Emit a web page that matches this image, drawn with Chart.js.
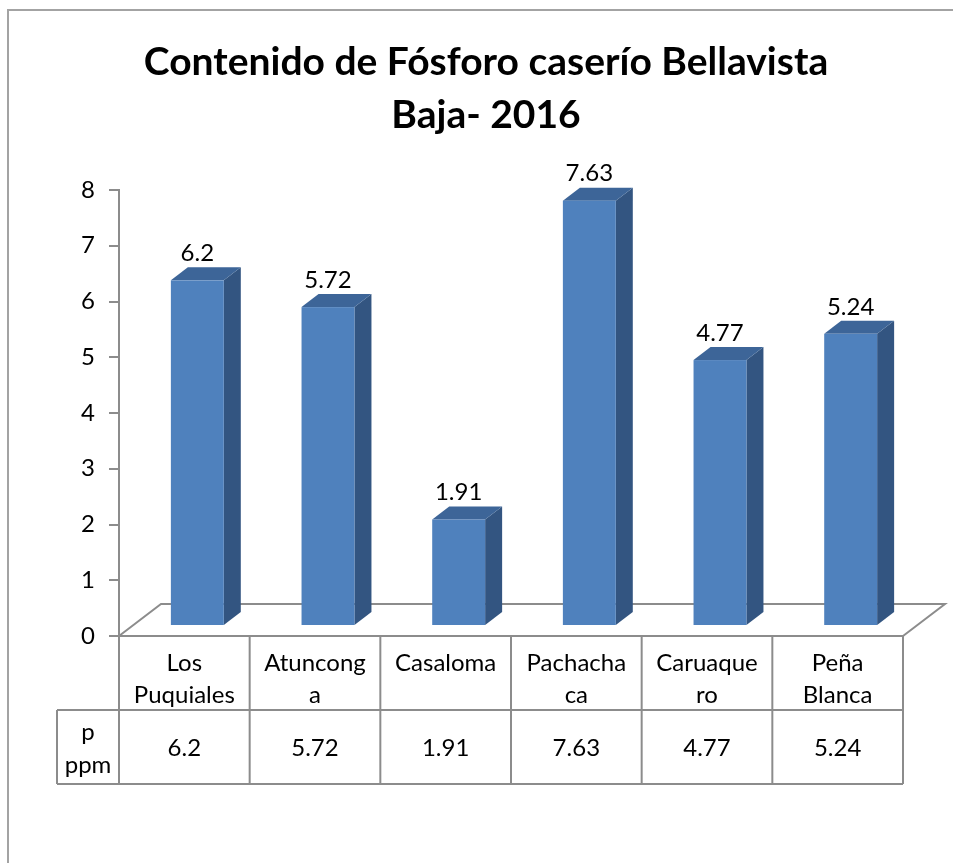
<!DOCTYPE html>
<html>
<head>
<meta charset="utf-8">
<script src="https://cdn.jsdelivr.net/npm/chart.js@4"></script>
<style>
    html, body { margin: 0; padding: 0; background: #fff; }
    #wrap { width: 953px; height: 863px; }
</style>
</head>
<body>
<div id="wrap"><canvas id="grafico" width="953" height="863"></canvas></div>
<script>
// Datos
const categorias = [['Los', 'Puquiales'], ['Atuncong', 'a'], ['Casaloma'], ['Pachacha', 'ca'], ['Caruaque', 'ro'], ['Peña', 'Blanca']];
const valoresP = [6.2, 5.72, 1.91, 7.63, 4.77, 5.24];
const encabezadoFila = ['p', 'ppm'];
const tituloLineas = ['Contenido de Fósforo caserío Bellavista', 'Baja- 2016'];

const fuente = 'Lato, "Noto Sans", sans-serif';
const gris = '#8c8c8c';

// Marco exterior y titulo
const marcoTitulo = {
    id: 'marcoTitulo',
    beforeDraw(chart) {
        const ctx = chart.ctx;
        ctx.save();
        ctx.strokeStyle = '#a3a3a3';
        ctx.lineWidth = 2;
        ctx.beginPath();
        ctx.moveTo(8, 863);
        ctx.lineTo(8, 10);
        ctx.lineTo(953, 10);
        ctx.stroke();

        ctx.fillStyle = '#000';
        ctx.font = 'bold 39px ' + fuente;
        ctx.textAlign = 'center';
        ctx.textBaseline = 'alphabetic';
        const ancho = ctx.measureText(tituloLineas[0]).width;
        const esc = Math.min(1, 693 / ancho);
        const cx = 486;
        const bases = [75, 128];
        tituloLineas.forEach((t, i) => {
            ctx.save();
            ctx.translate(cx, bases[i]);
            ctx.scale(esc, 1);
            ctx.fillText(t, 0, 0);
            ctx.restore();
        });
        ctx.restore();
    }
};

// Piso 3D, columnas 3D y tabla de datos
const profPiso = { dx: 42, dy: -32 };
const despFrente = { dx: 13, dy: -10 };
const profBarra = { dx: 17, dy: -13 };

const columnas3D = {
    id: 'columnas3D',
    beforeDatasetsDraw(chart) {
        const { ctx, chartArea } = chart;
        const l = chartArea.left, r = chartArea.right, b = chartArea.bottom;
        ctx.save();
        ctx.strokeStyle = gris;
        ctx.lineWidth = 2;
        ctx.beginPath();
        ctx.moveTo(l, b);
        ctx.lineTo(l + profPiso.dx, b + profPiso.dy);
        ctx.lineTo(r + profPiso.dx, b + profPiso.dy);
        ctx.lineTo(r, b);
        ctx.stroke();
        ctx.restore();
    },
    afterDatasetsDraw(chart) {
        const ctx = chart.ctx;
        const meta = chart.getDatasetMeta(0);
        ctx.save();
        meta.data.forEach((bar, i) => {
            const p = bar.getProps(['x', 'y', 'base', 'width'], true);
            const izq = p.x - p.width / 2 + despFrente.dx;
            const der = izq + p.width;
            const arriba = p.y + despFrente.dy;
            const abajo = p.base + despFrente.dy;

            // lado
            ctx.fillStyle = '#335581';
            ctx.beginPath();
            ctx.moveTo(der, arriba);
            ctx.lineTo(der + profBarra.dx, arriba + profBarra.dy);
            ctx.lineTo(der + profBarra.dx, abajo + profBarra.dy);
            ctx.lineTo(der, abajo);
            ctx.closePath();
            ctx.fill();

            // tapa
            ctx.fillStyle = '#3d6598';
            ctx.beginPath();
            ctx.moveTo(izq, arriba);
            ctx.lineTo(izq + profBarra.dx, arriba + profBarra.dy);
            ctx.lineTo(der + profBarra.dx, arriba + profBarra.dy);
            ctx.lineTo(der, arriba);
            ctx.closePath();
            ctx.fill();

            // frente
            ctx.fillStyle = '#4f81bd';
            ctx.fillRect(izq, arriba, p.width, abajo - arriba);

            // etiqueta
            ctx.fillStyle = '#000';
            ctx.font = '24px ' + fuente;
            ctx.textAlign = 'center';
            ctx.textBaseline = 'middle';
            ctx.fillText(String(valoresP[i]), izq + p.width / 2, arriba - 27);
        });
        ctx.restore();
    },
    afterDraw(chart) {
        const { ctx, chartArea, scales } = chart;
        const x = scales.x;
        const l = chartArea.left, r = chartArea.right, top = chartArea.bottom;
        const fila1 = top + 74, fila2 = fila1 + 74;
        const izqEnc = 57;
        const paso = (r - l) / categorias.length;

        ctx.save();
        ctx.strokeStyle = gris;
        ctx.lineWidth = 2;
        ctx.beginPath();
        ctx.moveTo(l, top); ctx.lineTo(r, top);
        ctx.moveTo(izqEnc, fila1); ctx.lineTo(r, fila1);
        ctx.moveTo(izqEnc, fila2); ctx.lineTo(r, fila2);
        ctx.moveTo(izqEnc, fila1); ctx.lineTo(izqEnc, fila2);
        for (let k = 0; k <= categorias.length; k++) {
            const xx = l + k * paso;
            ctx.moveTo(xx, top); ctx.lineTo(xx, fila2);
        }
        ctx.stroke();

        ctx.fillStyle = '#000';
        ctx.font = '24px ' + fuente;
        ctx.textAlign = 'center';
        ctx.textBaseline = 'middle';
        categorias.forEach((lineas, i) => {
            const cx = x.getPixelForValue(i);
            lineas.forEach((t, j) => ctx.fillText(t, cx, top + 27 + j * 32));
            ctx.fillText(String(valoresP[i]), cx, fila1 + 38);
        });
        encabezadoFila.forEach((t, j) => ctx.fillText(t, (izqEnc + l) / 2, fila1 + 22 + j * 33));
        ctx.restore();
    }
};

new Chart(document.getElementById('grafico'), {
    type: 'bar',
    data: {
        labels: categorias,
        datasets: [{
            label: 'p ppm',
            data: valoresP,
            backgroundColor: 'rgba(0,0,0,0)',
            borderWidth: 0,
            barPercentage: 0.405,
            categoryPercentage: 1
        }]
    },
    options: {
        responsive: false,
        animation: false,
        events: [],
        layout: { padding: { top: 190, right: 50, bottom: 227, left: 0 } },
        plugins: {
            legend: { display: false },
            title: { display: false },
            tooltip: { enabled: false }
        },
        scales: {
            x: { display: false },
            y: {
                min: 0,
                max: 8,
                afterFit: (scale) => { scale.width = 119; },
                ticks: {
                    stepSize: 1,
                    color: '#000',
                    font: { family: fuente, size: 24 },
                    padding: 14
                },
                grid: {
                    drawOnChartArea: false,
                    tickLength: 10,
                    color: gris,
                    lineWidth: 2
                },
                border: { color: gris, width: 2 }
            }
        }
    },
    plugins: [marcoTitulo, columnas3D]
});
</script>
</body>
</html>
